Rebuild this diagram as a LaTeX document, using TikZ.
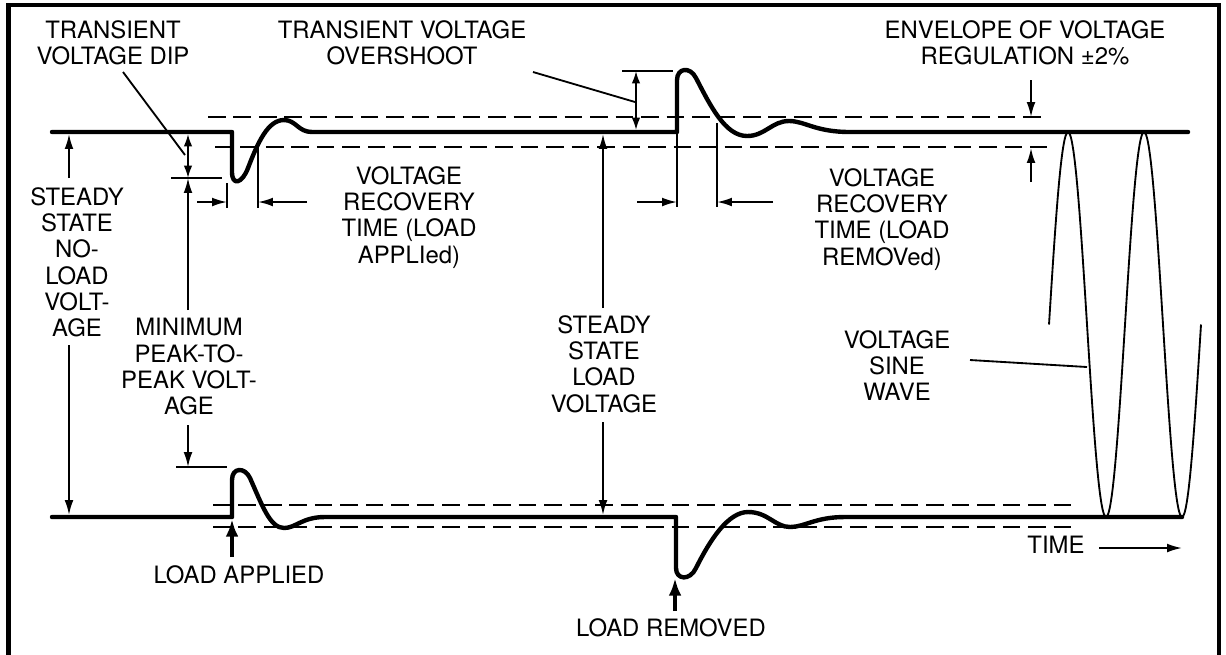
\documentclass[tikz,border=0pt]{standalone}
\usepackage{fontspec}
\setmainfont{TeX Gyre Heros}
\usetikzlibrary{arrows.meta}
\begin{document}
\begin{tikzpicture}[x=0.02cm,y=-0.02cm,
  lbl/.style={font=\fontsize{13.6}{15}\selectfont, align=center, anchor=north, inner sep=0pt},
  wave/.style={line width=2.5pt, line join=round, line cap=round},
  thinl/.style={line width=1.05pt},
  dashl/.style={line width=1.05pt, dash pattern=on 10pt off 4.5pt},
  arr/.style={thinl, -{Latex[length=8.5pt,width=5pt]}},
  darr/.style={thinl, {Latex[length=7pt,width=4.8pt]}-{Latex[length=7pt,width=4.8pt]}},
  bigarr/.style={line width=2.4pt, -{Latex[length=10pt,width=7.2pt]}},
]
\useasboundingbox (0,0) rectangle (1226,654);
\clip (0,0) rectangle (1226,654);
% frame
\draw[line width=2.3pt] (8.5,5) rectangle (1218.5,700);

% envelope dashed lines
\draw[dashl] (208,117) -- (1041,117);
\draw[dashl] (215,147) -- (1047,147);
\draw[dashl] (213,505) -- (1073,505);
\draw[dashl] (213,527) -- (1073,527);

% upper trace
\draw[wave] (52,132) -- (232,132) -- (232,172)
  .. controls (232,186) and (242,184) .. (248,168)
  .. controls (258,142) and (268,120) .. (284,120)
  .. controls (296,120) and (298,132) .. (312,132)
  -- (677,132) -- (677,80)
  .. controls (677,68) and (690,66) .. (696,78)
  .. controls (710,105) and (725,136) .. (747,136)
  .. controls (765,136) and (772,121) .. (789,121)
  .. controls (805,121) and (815,132) .. (850,132)
  -- (1188,132);

% lower trace
\draw[wave] (52,517) -- (232,517) -- (232,480)
  .. controls (232,467) and (245,467) .. (250,478)
  .. controls (262,505) and (270,528) .. (284,528)
  .. controls (296,528) and (302,517) .. (325,517)
  -- (676,517) -- (676,568)
  .. controls (676,580) and (690,581) .. (696,568)
  .. controls (710,540) and (728,512) .. (748,512)
  .. controls (768,512) and (775,527) .. (790,527)
  .. controls (805,527) and (815,517) .. (845,517)
  -- (1182,517);

% sine wave
\draw[line width=1.05pt] plot[domain=-90:630, samples=120, smooth, variable=\t]
  ({1068+0.211111*\t}, {324.5-192.5*cos(\t)});

% labels
\node[lbl] (dipL) at (113,20) {TRANSIENT\\VOLTAGE DIP};
\node[lbl] (overL) at (402,20) {TRANSIENT VOLTAGE\\OVERSHOOT};
\node[lbl] (envL) at (1025,20) {ENVELOPE OF VOLTAGE\\REGULATION ±2\%};
\node[lbl] (recA) at (409,166) {VOLTAGE\\RECOVERY\\TIME (LOAD\\APPLIed)};
\node[lbl] (recR) at (882,168) {VOLTAGE\\RECOVERY\\TIME (LOAD\\REMOVed)};
\node[lbl] (ssnl) at (77,187) {STEADY\\STATE\\NO-\\LOAD\\VOLT-\\AGE};
\node[lbl] (minpp) at (189,318) {MINIMUM\\PEAK-TO-\\PEAK VOLT-\\AGE};
\node[lbl] (sslv) at (604,315) {STEADY\\STATE\\LOAD\\VOLTAGE};
\node[lbl] (sineL) at (897,330) {VOLTAGE\\SINE\\WAVE};
\node[lbl] (timeL) at (1056,536) {TIME};
\node[lbl] (laL) at (239,565) {LOAD APPLIED};
\node[lbl] (lrL) at (671,618) {LOAD REMOVED};

% coordinates
\coordinate (dipTick) at (188,178);
\coordinate (minTick) at (188,467);
\coordinate (overTick) at (636,71);

% steady state no-load voltage
\draw[arr] (69,178) -- (69,134);
\draw[arr] (69,345) -- (69,515);

% transient voltage dip
\draw[thinl] (171,178) -- (222,178);
\draw[darr] (188,134) -- (dipTick);
\draw[thinl] (123,72) -- (185,155);

% minimum peak-to-peak
\draw[arr] (188,310) -- (dipTick);
\draw[arr] (188,425) -- (minTick);
\draw[thinl] (176,467) -- (227,467);

% recovery time (applied)
\draw[thinl] (227,183) -- (227,208);
\draw[thinl] (258,148) -- (258,208);
\draw[arr] (197,202) -- (227,202);
\draw[arr] (307,202) -- (258,202);

% overshoot
\draw[thinl] (622,71) -- (673,71);
\draw[darr] (overTick) -- (636,130);
\draw[thinl] (533,72) -- (635,102);

% steady state load voltage
\draw[arr] (603,308) -- (603,134);
\draw[arr] (603,422) -- (603,515);

% recovery time (removed)
\draw[thinl] (677,132) -- (677,207);
\draw[thinl] (717,123) -- (717,207);
\draw[arr] (637,202) -- (677,202);
\draw[arr] (773,202) -- (717,202);

% envelope
\draw[arr] (1031,80) -- (1031,117);
\draw[arr] (1031,182) -- (1031,148);

% sine leader
\draw[thinl] (970,360) -- (1087,367);

% time arrow
\draw[arr] (1099,548) -- (1182,548);

% load applied / removed
\draw[bigarr] (232,557) -- (232,519);
\draw[bigarr] (675,611) -- (675,578);
\end{tikzpicture}
\end{document}
